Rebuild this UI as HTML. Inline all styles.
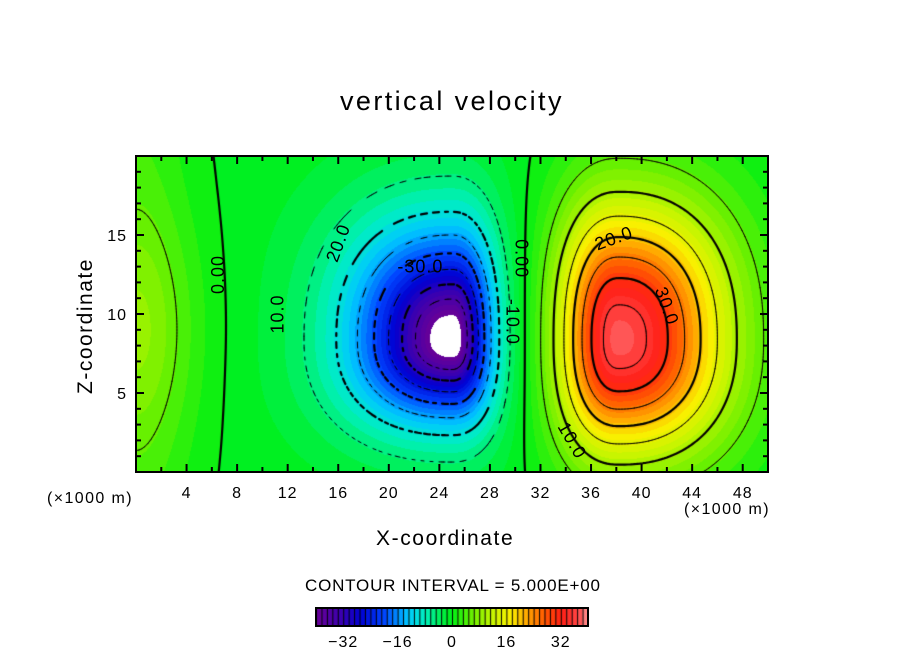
<!DOCTYPE html>
<html><head><meta charset="utf-8"><style>
body{margin:0;background:#fff;width:904px;height:654px;overflow:hidden;position:relative;font-family:"Liberation Sans",sans-serif}
.t{position:absolute;white-space:nowrap;color:#000}
</style></head><body>
<div class="t" style="left:340px;top:86px;font-size:27px;letter-spacing:2.4px">vertical velocity</div>
<canvas id="cv" width="904" height="654" style="position:absolute;left:0;top:0"></canvas>
<svg id="ov" width="904" height="654" style="position:absolute;left:0;top:0"></svg>
<div class="t" style="left:6px;top:302px;font-size:21px;letter-spacing:1.5px;transform:rotate(-90deg);transform-origin:80px 12px;width:160px">Z-coordinate</div>
<div class="t" style="left:376px;top:527px;font-size:21px;letter-spacing:1.6px">X-coordinate</div>
<div class="t" style="left:47px;top:490px;font-size:16px;letter-spacing:1.4px">(×1000 m)</div>
<div class="t" style="left:684px;top:501px;font-size:16px;letter-spacing:1.4px">(×1000 m)</div>
<div class="t" style="left:305px;top:576px;font-size:17px;letter-spacing:0.8px">CONTOUR INTERVAL = 5.000E+00</div>
<script>
// data
const xTicks=[4,8,12,16,20,24,28,32,36,40,44,48];
const zTicks=[5,10,15];
const cbTicks=[-32,-16,0,16,32];
const levels=[-35,-30,-25,-20,-15,-10,-5,0,5,10,15,20,25,30,35];
// blobs: centre, amplitude, extents to the |5| level, profile scale/exponent
const blobX=[25,38.2];
const blobZ=[8.4,8.4];
const blobA=[-44,38];
const blobSxL=[11,5.6];
const blobSxR=[4.6,10];
const blobSzU=[9.7,10];
const blobSzD=[7.3,8.5];
const blobScale=[0.64,0.82];
const blobE=[1.6,2];
const leftBlob=[6,5,8,9]; // amplitude, sx, sz, zc
const leftStrip=[3,4]; // amplitude, width
const offset=-0.4;
const labels=[["0.00",6.5,12.5,-90],["10.0",11.2,10,-90],["20.0",16,14.5,-70],["-30.0",22.5,13,0],["0.00",30.5,13.5,90],["-10.0",29.8,9.5,90],["20.0",37.8,14.8,-20],["30.0",42,10.5,70],["10.0",34.5,2,60]];

const PX0=136,PX1=768,PY0=156,PY1=472,XMAX=50,ZMAX=20;
const sx=x=>PX0+x/XMAX*(PX1-PX0), sz=z=>PY1-z/ZMAX*(PY1-PY0);
function field(x,z){
  let v=offset+leftStrip[0]*Math.exp(-Math.pow(x/leftStrip[1],2));
  v+=leftBlob[0]*Math.exp(-(Math.pow(x/leftBlob[1],2)+Math.pow((z-leftBlob[3])/leftBlob[2],2)));
  for(let i=0;i<blobX.length;i++){
    const dx=x-blobX[i],dz=z-blobZ[i];
    const ax=Math.abs(dx/(dx<0?blobSxL[i]:blobSxR[i]));
    const az=Math.abs(dz/(dz>0?blobSzU[i]:blobSzD[i]));
    const d=Math.pow(Math.pow(ax,2.3)+Math.pow(az,2.3),1/2.3);
    v+=blobA[i]*Math.exp(-Math.pow(d/blobScale[i],blobE[i]));
  }
  return v;
}
const stops=[[-40,[105,0,150]],[-33,[60,0,175]],[-27,[0,0,210]],[-20,[0,70,255]],[-13,[0,200,255]],[-8,[0,240,190]],[-3,[0,240,70]],[0,[0,240,20]],[6,[110,240,0]],[12,[200,245,0]],[17,[250,240,0]],[22,[255,165,0]],[27,[255,90,0]],[32,[255,30,20]],[37,[255,70,70]],[40,[255,150,150]]];
function col(v){
  if(v<-40||v>40) return [255,255,255];
  v=Math.floor(v/1.6)*1.6+0.8;
  for(let i=0;i<stops.length-1;i++){
    const a=stops[i],b=stops[i+1];
    if(v<=b[0]){const t=Math.max(0,(v-a[0])/(b[0]-a[0]));return a[1].map((c,k)=>Math.round(c+(b[1][k]-c)*t));}
  }
  return stops[stops.length-1][1];
}
const cv=document.getElementById('cv'),ctx=cv.getContext('2d');
const W=PX1-PX0,H=PY1-PY0;
const img=ctx.createImageData(W,H);
for(let j=0;j<H;j++)for(let i=0;i<W;i++){
  const x=(i+0.5)/W*XMAX,z=(H-j-0.5)/H*ZMAX;
  const c=col(field(x,z));const o=(j*W+i)*4;
  img.data[o]=c[0];img.data[o+1]=c[1];img.data[o+2]=c[2];img.data[o+3]=255;
}
ctx.putImageData(img,PX0,PY0);
// colorbar
const CB0=316,CB1=588,CBY=608,CBH=18;
const cbx=v=>CB0+(v+40)/80*(CB1-CB0);
for(let v=-40;v<40;v+=1.6){
  const c=col(v+0.8);ctx.fillStyle=`rgb(${c})`;
  ctx.fillRect(cbx(v),CBY,cbx(v+1.6)-cbx(v)+0.5,CBH);
  ctx.fillStyle='#000';ctx.fillRect(cbx(v),CBY,1,CBH);
}
// contours via marching squares
const st=3,nx=Math.ceil(W/st),nz=Math.ceil(H/st);
const g=[];for(let j=0;j<=nz;j++){g.push([]);for(let i=0;i<=nx;i++){g[j].push(field(i*st/W*XMAX,ZMAX-j*st/H*ZMAX));}}
ctx.save();ctx.beginPath();ctx.rect(PX0,PY0,W,H);ctx.clip();
ctx.strokeStyle='#000';ctx.lineCap='round';
levels.forEach(L=>{
  ctx.lineWidth=(L%10===0)?2.2:1;
  const dash=L<0;
  ctx.beginPath();
  for(let j=0;j<nz;j++)for(let i=0;i<nx;i++){
    const a=g[j][i],b=g[j][i+1],c=g[j+1][i+1],d=g[j+1][i];
    const pts=[];
    const ed=(p,q,x1,y1,x2,y2)=>{if((p<L)!==(q<L)){const t=(L-p)/(q-p);pts.push([x1+(x2-x1)*t,y1+(y2-y1)*t]);}};
    const X=PX0+i*st,Y=PY0+j*st;
    ed(a,b,X,Y,X+st,Y);ed(b,c,X+st,Y,X+st,Y+st);ed(d,c,X,Y+st,X+st,Y+st);ed(a,d,X,Y,X,Y+st);
    for(let k=0;k+1<pts.length;k+=2){
      const mx=(pts[k][0]+pts[k+1][0])/2,my=(pts[k][1]+pts[k+1][1])/2;
      if(dash&&Math.floor((mx+my*0.9)/5)%2===0)continue;
      ctx.moveTo(pts[k][0],pts[k][1]);ctx.lineTo(pts[k+1][0],pts[k+1][1]);
    }
  }
  ctx.stroke();
});
ctx.restore();
// overlay svg
const NS='http://www.w3.org/2000/svg',ov=document.getElementById('ov');
function el(t,a,txt){const e=document.createElementNS(NS,t);for(const k in a)e.setAttribute(k,a[k]);if(txt!==undefined)e.textContent=txt;ov.appendChild(e);return e;}
labels.forEach(l=>{
  const x=sx(l[1]),y=sz(l[2]);
  const t=el('text',{x:x,y:y,'text-anchor':'middle','dominant-baseline':'central','font-size':18,'letter-spacing':1,'font-family':'Liberation Sans, sans-serif',transform:`rotate(${l[3]} ${x} ${y})`},l[0]);
  
  
});
const fr=el('rect',{x:PX0,y:PY0,width:W,height:H,fill:'none',stroke:'#000','stroke-width':2});


for(let v=2;v<XMAX;v+=2){
  const x=sx(v),len=v%4===0?8:5;
  el('line',{x1:x,x2:x,y1:PY1,y2:PY1-len,stroke:'#000','stroke-width':2});
  el('line',{x1:x,x2:x,y1:PY0,y2:PY0+len,stroke:'#000','stroke-width':2});
}
for(let v=1;v<ZMAX;v++){
  const y=sz(v),len=v%5===0?8:5;
  el('line',{x1:PX0,x2:PX0+len,y1:y,y2:y,stroke:'#000','stroke-width':2});
  el('line',{x1:PX1,x2:PX1-len,y1:y,y2:y,stroke:'#000','stroke-width':2});
}
xTicks.forEach(v=>{
  const t=el('text',{x:sx(v),y:498,'text-anchor':'middle','font-size':16,'letter-spacing':1,'font-family':'Liberation Sans, sans-serif'},v);
  
  
});
zTicks.forEach(v=>{
  const t=el('text',{x:127,y:sz(v)+6,'text-anchor':'end','font-size':16,'letter-spacing':1,'font-family':'Liberation Sans, sans-serif'},v);
  
  
});
const cbr=el('rect',{x:CB0,y:CBY,width:CB1-CB0,height:CBH,fill:'none',stroke:'#000','stroke-width':2});


cbTicks.forEach(v=>{
  const t=el('text',{x:cbx(v),y:647,'text-anchor':'middle','font-size':16,'letter-spacing':1,'font-family':'Liberation Sans, sans-serif'},(v<0?'\u2212':'')+Math.abs(v));
  
  
});
</script>
</body></html>
